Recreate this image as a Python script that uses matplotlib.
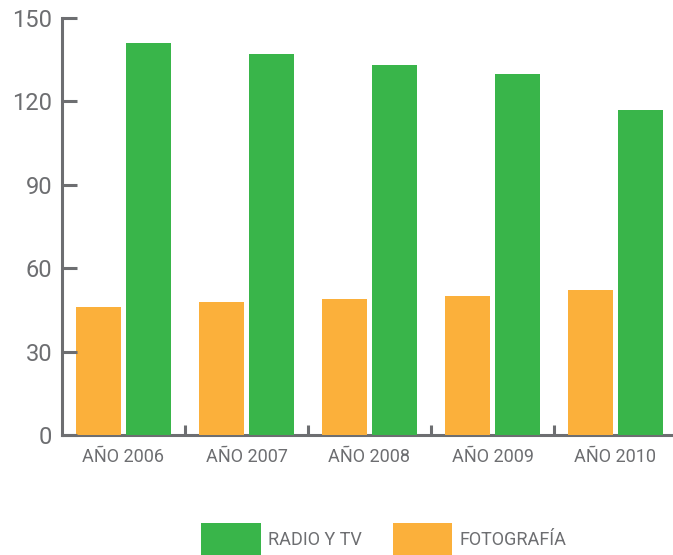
import numpy as np
import matplotlib
matplotlib.use("Agg")
import matplotlib.pyplot as plt

years = ["AÑO 2006", "AÑO 2007", "AÑO 2008", "AÑO 2009", "AÑO 2010"]
radio_tv = [141, 137, 133, 130, 117]
fotografia = [46, 48, 49, 50, 52]
yticks = [0, 30, 60, 90, 120, 150]

green = "#39B54A"
orange = "#FBB03B"
gray = "#6D6E71"

plt.rcParams['font.family'] = ['Liberation Sans Narrow', 'Roboto', 'DejaVu Sans']

fig = plt.figure(figsize=(6.73, 5.55), dpi=100)
ax = fig.add_axes([62 / 673, 120 / 555, 611 / 673, 417 / 555])

x = np.arange(len(years))
w = 0.366
off = 0.203
b1 = ax.bar(x + off, radio_tv, w, color=green, label="RADIO Y TV", zorder=1)
b2 = ax.bar(x - off, fotografia, w, color=orange, label="FOTOGRAFÍA", zorder=1)

ax.set_xlim(-0.5, -0.5 + 611 / 123)
ax.set_ylim(0, 150)
ax.set_yticks(yticks)
ax.set_xticks(x)
ax.set_xticklabels(years)
ax.set_xticks(x[:-1] + 0.5, minor=True)

for s in ["top", "right"]:
    ax.spines[s].set_visible(False)
for s in ["left", "bottom"]:
    ax.spines[s].set_color(gray)
    ax.spines[s].set_linewidth(2.2)
    ax.spines[s].set_zorder(0)

ax.tick_params(axis="y", direction="in", length=11, width=2.2, color=gray,
               labelsize=17, labelcolor=gray, pad=7)
ax.tick_params(axis="x", which="major", length=0, labelsize=13, labelcolor=gray, pad=9)
ax.tick_params(axis="x", which="minor", direction="in", length=7, width=2.2, color=gray)

fig.legend(handles=[b1, b2], loc="lower left", bbox_to_anchor=(185 / 673, -0.03),
           ncol=2, frameon=False, fontsize=13, labelcolor=gray,
           handlelength=3.3, handleheight=2.4, handletextpad=0.4, columnspacing=1.7)

fig.savefig("out.png", dpi=100)
